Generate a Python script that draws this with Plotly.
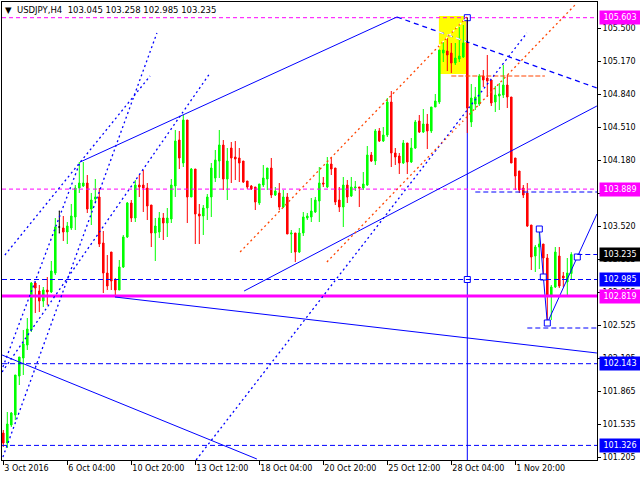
import plotly.graph_objects as go

# ---------------- data (H4 bars, index 0 = 3 Oct 2016) ----------------
opens = [101.45,101.35,101.53,101.63,102.02,102.20,102.33,102.48,102.95,102.87,
         102.77,102.88,102.86,103.05,103.51,103.50,103.46,103.50,103.61,103.90,
         103.92,103.95,103.69,103.79,103.81,103.35,103.05,103.26,102.98,102.88,
         103.11,103.41,103.75,103.60,103.93,103.93,103.90,103.73,103.45,103.46,
         103.60,103.55,103.59,103.92,104.38,104.15,104.58,103.81,104.09,103.64,
         103.62,103.70,103.81,104.00,104.17,104.33,103.99,104.30,104.21,104.20,
         104.17,103.97,103.92,103.91,103.75,103.93,103.99,104.10,103.83,103.85,
         103.71,103.81,103.44,103.45,103.26,103.45,103.60,103.61,103.66,103.77,
         103.95,103.91,104.14,104.10,103.78,103.71,103.93,103.82,103.90,103.91,
         103.90,103.93,104.23,104.17,104.47,104.37,104.43,104.76,104.25,104.22,
         104.15,104.35,104.16,104.30,104.57,104.46,104.54,104.47,104.71,104.76,
         105.25,105.27,105.25,105.15,105.19,105.21,105.35,104.56,104.74,104.74,
         105.02,105.00,104.98,104.76,104.82,104.83,104.93,104.81,104.20,104.07,
         103.90,103.85,103.53,103.22,103.31,103.34,103.20,102.83,102.91,103.22,
         103.02,102.96,103.045]
highs = [101.48,101.66,101.66,102.03,102.21,102.48,102.60,102.96,102.96,102.93,
         102.91,103.01,103.17,103.60,103.67,103.62,103.56,103.74,103.93,104.16,
         104.16,104.03,103.85,103.99,103.90,103.47,103.23,103.26,103.00,103.18,
         103.43,103.76,103.78,103.98,104.03,104.08,103.95,103.73,103.60,103.66,
         103.65,103.70,103.99,104.48,104.47,104.63,104.58,104.10,104.09,103.74,
         103.73,103.84,104.15,104.28,104.48,104.38,104.30,104.36,104.37,104.30,
         104.17,103.97,103.93,103.91,103.94,104.13,104.10,104.20,103.91,103.95,
         103.88,103.85,103.48,103.45,103.50,103.66,103.65,103.80,103.81,104.11,
         104.01,104.21,104.21,104.10,103.91,104.01,103.98,104.01,103.97,103.91,
         104.06,104.32,104.26,104.49,104.50,104.51,104.80,104.87,104.30,104.25,
         104.38,104.35,104.40,104.58,104.63,104.69,104.64,104.71,104.84,105.28,
         105.36,105.40,105.35,105.35,105.51,105.53,105.603,104.94,104.91,105.04,
         105.08,105.23,104.98,104.92,104.95,105.13,105.03,104.81,104.20,104.07,
         103.93,103.95,103.53,103.33,103.49,103.34,103.24,102.93,103.31,103.31,
         103.06,103.20,103.258]
lows = [101.31,101.30,101.51,101.58,101.93,102.03,102.28,102.46,102.65,102.66,
        102.71,102.73,102.85,103.03,103.45,103.37,103.34,103.48,103.48,103.85,
        103.91,103.65,103.53,103.75,103.31,102.85,102.88,102.88,102.81,102.88,
        103.10,103.40,103.56,103.56,103.81,103.66,103.58,103.31,103.17,103.40,
        103.38,103.41,103.55,103.81,104.09,104.11,103.55,103.81,103.34,103.34,
        103.43,103.58,103.61,103.96,104.00,103.88,103.78,103.95,103.98,103.96,
        103.95,103.89,103.88,103.68,103.73,103.91,103.88,103.80,103.82,103.68,
        103.70,103.44,103.25,103.16,103.25,103.42,103.58,103.56,103.65,103.56,
        103.91,103.90,104.03,103.73,103.66,103.51,103.75,103.81,103.87,103.71,
        103.88,103.92,104.16,104.13,104.36,104.36,104.41,104.11,104.13,104.04,
        104.14,104.04,104.15,104.29,104.45,104.45,104.29,104.45,104.71,104.74,
        105.16,105.07,105.05,105.13,105.16,105.20,104.45,104.51,104.68,104.72,
        104.91,104.81,104.72,104.66,104.68,104.80,104.70,104.15,103.88,103.85,
        103.80,103.51,103.08,103.06,103.09,103.01,102.55,102.58,102.90,102.90,
        102.91,102.83,102.985]
closes = [101.35,101.54,101.65,102.03,102.21,102.34,102.49,102.95,102.90,102.77,
          102.88,102.86,103.07,103.51,103.51,103.46,103.52,103.62,103.90,103.95,
          103.95,103.69,103.78,103.81,103.34,103.05,102.92,102.97,102.88,103.11,
          103.41,103.75,103.60,103.93,103.91,103.90,103.72,103.45,103.52,103.60,
          103.55,103.60,103.93,104.37,104.20,104.58,103.81,104.09,103.64,103.62,
          103.70,103.81,104.10,104.18,104.33,103.99,104.17,104.20,104.19,104.15,
          103.96,103.91,103.89,103.76,103.94,104.00,104.10,103.83,103.87,103.71,
          103.81,103.44,103.45,103.26,103.45,103.61,103.62,103.67,103.78,103.95,
          103.94,104.14,104.09,103.76,103.71,103.93,103.81,103.91,103.91,103.90,
          103.94,104.23,104.17,104.47,104.37,104.43,104.76,104.25,104.21,104.15,
          104.35,104.16,104.30,104.56,104.46,104.54,104.47,104.71,104.77,105.28,
          105.28,105.23,105.15,105.20,105.22,105.35,104.70,104.80,104.81,105.02,
          104.98,104.97,104.75,104.83,104.84,104.93,104.81,104.15,104.02,103.88,
          103.83,103.52,103.21,103.31,103.34,103.20,102.83,102.91,103.26,102.92,
          103.00,103.05,103.235]

x_tick_idx = [0, 16, 32, 48, 64, 80, 96, 112, 128]
x_tick_text = ["3 Oct 2016", "6 Oct 04:00", "10 Oct 20:00", "13 Oct 12:00",
               "18 Oct 04:00", "20 Oct 20:00", "25 Oct 12:00", "28 Oct 04:00",
               "1 Nov 20:00"]
y_tick_vals = [105.500, 105.170, 104.840, 104.510, 104.180, 103.850, 103.520,
               103.185, 102.855, 102.525, 102.195, 101.865, 101.535, 101.205]

# horizontal levels
lvl_top = 105.603
lvl_res = 103.889
lvl_blue1 = 102.985
lvl_sup = 102.819
lvl_blue2 = 102.143
lvl_blue3 = 101.326
lvl_short_blue_a = 103.86     # starts at bar 118
lvl_short_blue_b = 102.50     # starts at bar 131
lvl_orange = 105.02           # bars 112..135
last_price = 103.235

# trend lines (bar index, price)
solid_lines = [
    ((19.2, 104.16), (98.4, 105.61)),
    ((60.2, 102.87), (148.4, 104.72)),
    ((27.9, 102.81), (148.4, 102.25)),
    ((-0.3, 102.23), (63.4, 101.19)),
]
blue_dotted = [
    ((0.4, 103.23), (36.7, 105.02)),
    ((-0.1, 102.11), (19.2, 104.16)),
    ((-0.3, 102.06), (51.7, 105.05)),
    ((-0.1, 101.21), (38.4, 105.45)),
    ((48.2, 101.18), (130.9, 105.45)),
]
blue_dashed_diag = [((98.4, 105.61), (148.4, 104.90))]
orange_dotted = [
    ((59.2, 103.26), (115.9, 105.61)),
    ((80.9, 103.16), (143.4, 105.75)),
]
path_x = [134, 135, 136, 143.5, 148.4]
path_y = [103.49, 103.01, 102.55, 103.21, 103.64]
box_x = [116, 116, 134, 135, 136, 143.5]
box_y = [105.603, 102.985, 103.49, 103.01, 102.55, 103.21]
rect_x = [108.9, 115.7]
rect_y = [105.04, 105.62]
vline_bar = 116

# ---------------- figure ----------------
idx = list(range(len(opens)))
doji = [i for i in idx if abs(opens[i] - closes[i]) < 1e-9]
norm = [i for i in idx if i not in doji]

XMIN, XMAX = -0.325, 148.425
YMIN, YMAX = 101.18, 105.76

fig = go.Figure()

fig.add_shape(type="rect", x0=rect_x[0], x1=rect_x[1], y0=rect_y[0], y1=rect_y[1],
              fillcolor="#FFFF00", line_width=0, layer="below")
fig.add_shape(type="line", x0=vline_bar, x1=vline_bar, y0=lvl_top, y1=YMIN - 1,
              line=dict(color="#0000FF", width=1), layer="below")

fig.add_trace(go.Candlestick(
    x=norm, open=[opens[i] for i in norm], high=[highs[i] for i in norm],
    low=[lows[i] for i in norm], close=[closes[i] for i in norm],
    increasing=dict(line=dict(color="#00FF00", width=1), fillcolor="#00FF00"),
    decreasing=dict(line=dict(color="#FF0000", width=1), fillcolor="#FF0000"),
    whiskerwidth=0, showlegend=False, hoverinfo="skip"))
fig.add_trace(go.Candlestick(
    x=doji, open=[opens[i] for i in doji], high=[highs[i] for i in doji],
    low=[lows[i] for i in doji], close=[closes[i] for i in doji],
    increasing=dict(line=dict(color="#000000", width=1), fillcolor="#000000"),
    decreasing=dict(line=dict(color="#000000", width=1), fillcolor="#000000"),
    whiskerwidth=0.6, showlegend=False, hoverinfo="skip"))

def hline(y, color, width, dash, x0=XMIN, x1=XMAX):
    fig.add_shape(type="line", x0=x0, x1=x1, y0=y, y1=y,
                  line=dict(color=color, width=width, dash=dash), layer="above")

hline(lvl_top, "#FF00FF", 1, "4px,3px")
hline(lvl_res, "#FF00FF", 1, "4px,3px")
hline(lvl_blue1, "#0000FF", 1, "5px,3px")
hline(lvl_sup, "#FF00FF", 3, None)
hline(lvl_blue2, "#0000FF", 1, "5px,3px")
hline(lvl_blue3, "#0000FF", 1, "5px,3px")
hline(lvl_short_blue_a, "#0000FF", 1, "5px,3px", x0=118)
hline(lvl_short_blue_b, "#0000FF", 1, "5px,3px", x0=131)
hline(lvl_orange, "#FF4500", 1, "5px,2px", x0=112, x1=135.4)
hline(last_price, "#0000FF", 1, "5px,3px", x0=143.5)

def seg(p0, p1, color, dash, width=1):
    fig.add_shape(type="line", x0=p0[0], y0=p0[1], x1=p1[0], y1=p1[1],
                  line=dict(color=color, width=width, dash=dash), layer="above")

def clip_to_rect(p0, p1):
    # part of a line that lies inside the yellow rectangle's x span
    (xa, ya), (xb, yb) = p0, p1
    k = (yb - ya) / (xb - xa)
    lo, hi = max(rect_x[0], min(xa, xb)), min(rect_x[1], max(xa, xb))
    if lo >= hi:
        return None
    return (lo, ya + k * (lo - xa)), (hi, ya + k * (hi - xa))

for a, b in solid_lines:
    seg(a, b, "#0000FF", None)
for a, b in blue_dotted:
    seg(a, b, "#0000FF", "2px,3px", 1.3)
for a, b in blue_dashed_diag:
    seg(a, b, "#0000FF", "5px,4px", 1.3)
    c = clip_to_rect(a, b)
    if c:
        seg(c[0], c[1], "#FFFFFF", "5px,4px", 1.3)
for a, b in orange_dotted:
    seg(a, b, "#FF4500", "2px,3px", 1.3)
    c = clip_to_rect(a, b)
    if c:
        seg(c[0], c[1], "#FFFFFF", "2px,3px", 1.3)
# black top part of the vertical line
seg((vline_bar, lvl_top), (vline_bar, opens[vline_bar]), "#000000", None)

fig.add_trace(go.Scatter(x=path_x, y=path_y, mode="lines",
                         line=dict(color="#0000FF", width=1),
                         showlegend=False, hoverinfo="skip"))
fig.add_trace(go.Scatter(x=box_x, y=box_y, mode="markers",
                         marker=dict(symbol="square", size=6, color="white",
                                     line=dict(color="#0000FF", width=1)),
                         showlegend=False, hoverinfo="skip"))

FONT = "DejaVu Sans"

def price_box(y, bg, fg="white"):
    fig.add_annotation(x=1, xref="paper", y=y, yref="y", xanchor="left",
                       yanchor="middle", xshift=2, text=f"{y:.3f}",
                       showarrow=False, bgcolor=bg, width=38, height=11,
                       borderpad=1, font=dict(family=FONT, size=8, color=fg))

price_box(lvl_top, "#FF00FF")
price_box(lvl_res, "#FF00FF")
price_box(last_price, "#000000")
price_box(lvl_blue1, "#0000FF")
price_box(lvl_sup, "#FF00FF")
price_box(lvl_blue2, "#0000FF")
price_box(lvl_blue3, "#0000FF")

fig.add_annotation(x=0, xref="paper", y=1, yref="paper", xanchor="left",
                   yanchor="top", xshift=1, yshift=-1, showarrow=False,
                   text="\u25BC&nbsp;&nbsp;USDJPY,H4&nbsp;&nbsp;103.045 103.258 102.985 103.235",
                   font=dict(family=FONT, size=8.5, color="#000000"))

fig.update_layout(
    width=640, height=480,
    margin=dict(l=2, r=43, t=2, b=20),
    paper_bgcolor="white", plot_bgcolor="white",
    boxgap=0.45,
    showlegend=False,
    hovermode=False,
    font=dict(family=FONT, size=8, color="black"),
    xaxis=dict(range=[XMIN, XMAX], rangeslider=dict(visible=False),
               showgrid=False, zeroline=False, showline=True, mirror=True,
               linecolor="black", linewidth=1,
               tickvals=x_tick_idx, ticktext=x_tick_text,
               ticks="outside", ticklen=4, tickcolor="black",
               ticklabelposition="outside right",
               tickfont=dict(family=FONT, size=8, color="black")),
    yaxis=dict(range=[YMIN, YMAX], side="right",
               showgrid=False, zeroline=False, showline=True, mirror=True,
               linecolor="black", linewidth=1,
               tickvals=y_tick_vals, ticktext=[f"{v:.3f}" for v in y_tick_vals],
               ticks="outside", ticklen=3, tickcolor="black",
               tickfont=dict(family=FONT, size=8, color="black")),
)

fig.write_html("out.html", config={"displayModeBar": False, "staticPlot": True},
               post_script="document.body.style.margin='0';document.body.style.overflow='hidden';")
